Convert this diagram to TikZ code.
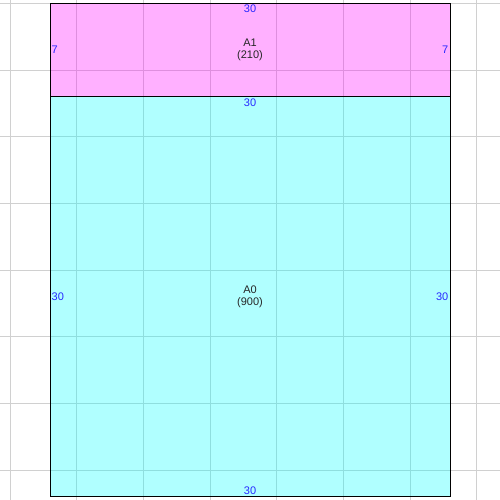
\documentclass[tikz,border=0pt]{standalone}
\usepackage{fontspec}
\setmainfont{Liberation Sans}
\definecolor{pmag}{RGB}{255,0,255}
\definecolor{pcyan}{RGB}{0,255,255}
\definecolor{dimblue}{RGB}{40,40,255}
\definecolor{gridgray}{RGB}{208,208,208}
\begin{document}
\begin{tikzpicture}[x=1pt,y=-1pt,
  gridline/.style={draw=gridgray, line width=0.8pt},
  area/.style={draw=black, line width=1pt, inner sep=0pt, outer sep=0pt},
  dimlabel/.style={text=dimblue, font=\fontsize{11}{12}\selectfont, inner sep=1.5pt},
  arealabel/.style={text=black!85, font=\fontsize{11}{12}\selectfont, align=center, inner sep=0pt}]
\useasboundingbox (0,0) rectangle (500,500);
\fill[white] (0,0) rectangle (500,500);
% grid
\foreach \i in {0,...,7} {
  \draw[gridline] ({10+66.667*\i},0) -- ({10+66.667*\i},500);
  \draw[gridline] (0,{3.333+66.667*\i}) -- (500,{3.333+66.667*\i});
}
% areas
\fill[pmag, fill opacity=0.31] (50,3.333) rectangle (450,96.667);
\fill[pcyan, fill opacity=0.31] (50,96.667) rectangle (450,496.667);
\node[area, minimum width=400pt, minimum height=93.333pt] (A1) at (250,50) {};
\node[area, minimum width=400pt, minimum height=400pt] (A0) at (250,296.667) {};
% area labels
\node[arealabel] (A1l) at (A1.center) {A1\\(210)};
\node[arealabel] (A0l) at (A0.center) {A0\\(900)};
% dimension labels
\node[dimlabel, anchor=north] (A1t) at (A1.north) {30};
\node[dimlabel, anchor=west] (A1w) at (A1.west) {7};
\node[dimlabel, anchor=east] (A1e) at (A1.east) {7};
\node[dimlabel, anchor=north] (A0t) at (A0.north) {30};
\node[dimlabel, anchor=west] (A0w) at (A0.west) {30};
\node[dimlabel, anchor=east] (A0e) at (A0.east) {30};
\node[dimlabel, anchor=south] (A0b) at (A0.south) {30};
\end{tikzpicture}
\end{document}
